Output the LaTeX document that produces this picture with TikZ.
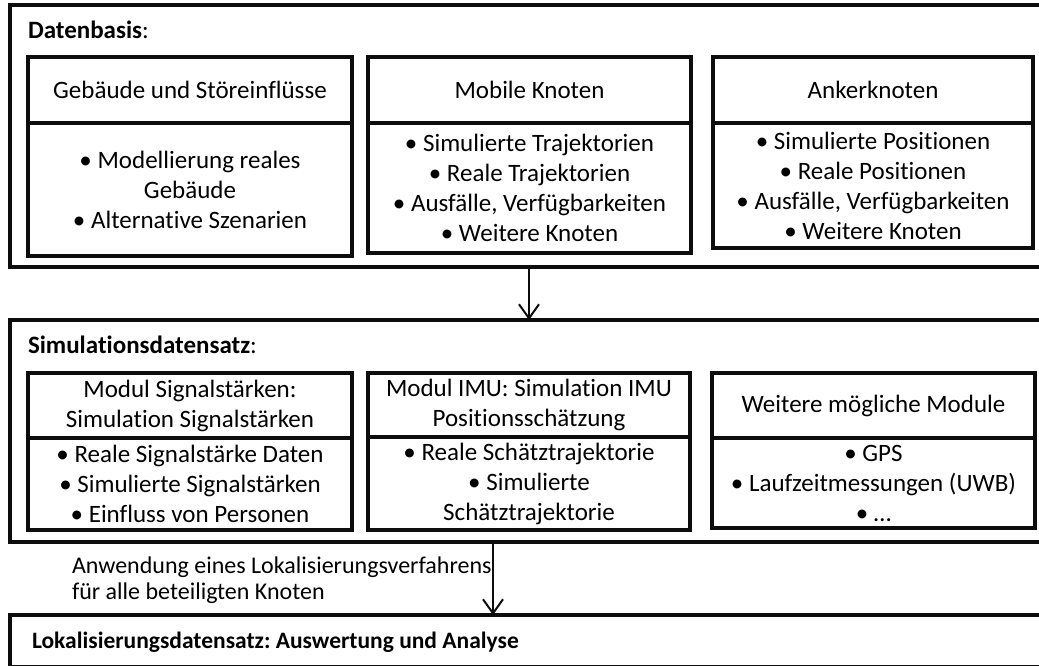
\documentclass[tikz,border=0pt]{standalone}
\usepackage{fontspec}
\setmainfont{Carlito}[Ligatures=NoCommon]
\usetikzlibrary{arrows.meta}
\frenchspacing

\tikzset{
  every node/.style={inner sep=0pt, outer sep=0pt, font=\fontsize{25}{30}\selectfont},
  frame/.style={draw=black!95, line width=4pt, anchor=north west, minimum height=#1},
  cell/.style={draw=black!95, line width=4pt, anchor=north west, align=center},
  title/.style={anchor=base west},
  flow/.style={draw=black!95, line width=2pt, -{Straight Barb[length=14pt,width=20pt,line width=2pt]}},
}

\begin{document}
\begin{tikzpicture}[x=1pt, y=-1pt]
\useasboundingbox (0,0) rectangle (1039,666);
\fill[white] (0,0) rectangle (1039,666);
\clip (0,0) rectangle (1039,666);

% outer frames (they run past the right and bottom edges)
\node[frame=262, minimum width=1060] (base) at (10,5) {};
\node[frame=222, minimum width=1060] (sim)  at (10,320) {};
\node[frame=52,  minimum width=1060] (lok)  at (10,615) {};

\node[title] (basetitle) at (28,39) {\textbf{Datenbasis}:};
\node[title] (simtitle)  at (28,353) {\textbf{Simulationsdatensatz}:};
\node[title, font=\fontsize{23.5}{28}\selectfont] (loktitle) at (32,648)
  {\textbf{Lokalisierungsdatensatz: Auswertung und Analyse}};

% data basis: three cells, each header over body
\node[cell, minimum width=324, minimum height=66] (geb) at (28,57) {Gebäude und Störeinflüsse};
\node[cell, minimum width=324, minimum height=133] (gebb) at (28,123)
  {• Modellierung reales\\Gebäude\\• Alternative Szenarien};

\node[cell, minimum width=323, minimum height=66] (mob) at (368,57) {Mobile Knoten};
\node[cell, minimum width=323, minimum height=130] (mobb) at (368,123)
  {• Simulierte Trajektorien\\• Reale Trajektorien\\• Ausfälle, Verfügbarkeiten\\• Weitere Knoten};

\node[cell, minimum width=320, minimum height=66] (ank) at (713,57) {Ankerknoten};
\node[cell, minimum width=320, minimum height=125] (ankb) at (713,123)
  {• Simulierte Positionen\\• Reale Positionen\\• Ausfälle, Verfügbarkeiten\\• Weitere Knoten};

% simulation modules
\node[cell, minimum width=324, minimum height=65] (sig) at (28,373)
  {Modul Signalstärken:\\Simulation Signalstärken};
\node[cell, minimum width=324, minimum height=92] (sigb) at (28,438)
  {• Reale Signalstärke Daten\\• Simulierte Signalstärken\\• Einfluss von Personen};

\node[cell, minimum width=322, minimum height=64] (imu) at (368,373)
  {Modul IMU: Simulation IMU\\Positionsschätzung};
\node[cell, minimum width=322, minimum height=93] (imub) at (368,437)
  {• Reale Schätztrajektorie\\• Simulierte\\Schätztrajektorie};

\node[cell, minimum width=323, minimum height=65] (wei) at (712,373)
  {Weitere mögliche Module};
\node[cell, minimum width=323, minimum height=90] (weib) at (712,438)
  {• GPS\\• Laufzeitmessungen (UWB)\\• …};

% connectors
\coordinate (c1) at (529,0);
\coordinate (c2) at (493,0);
\draw[flow] (base.south -| c1) -- (sim.north -| c1);
\draw[flow] (sim.south -| c2) -- (lok.north -| c2);

\node[anchor=base west, align=left, font=\fontsize{24}{26}\selectfont] (apply) at (72,599)
  {Anwendung eines Lokalisierungsverfahrens\\für alle beteiligten Knoten};
\end{tikzpicture}
\end{document}
